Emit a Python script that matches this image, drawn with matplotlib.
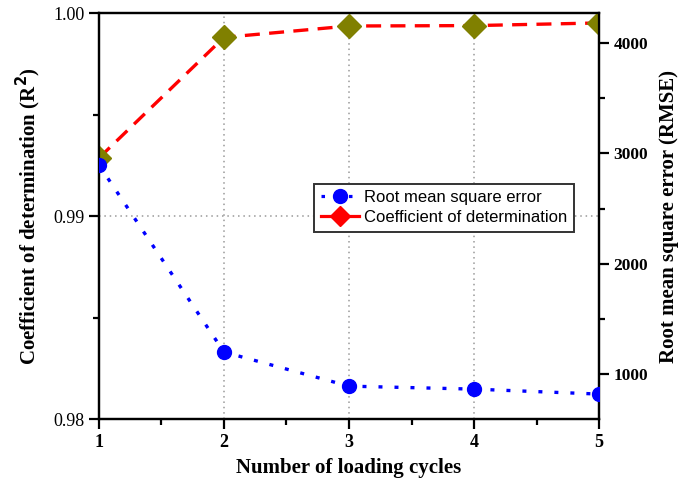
import matplotlib
matplotlib.use("Agg")
import matplotlib.pyplot as plt
from matplotlib.lines import Line2D
from matplotlib.ticker import MultipleLocator

cycles = [1, 2, 3, 4, 5]
r2 = [0.99286, 0.99880, 0.99936, 0.99938, 0.99951]
rmse = [2894, 1199, 890, 863, 818]

x_label = "Number of loading cycles"
left_label = "Coefficient of determination (R$^\\mathbf{2}$)"
right_label = "Root mean square error (RMSE)"
legend_labels = ["Root mean square error", "Coefficient of determination"]

serif = "Liberation Serif"
sans = "Liberation Sans"

fig = plt.figure(figsize=(6.86, 4.87), dpi=100)
ax = fig.add_axes([0.1443, 0.1396, 0.7289, 0.8337])
ax2 = ax.twinx()

# R^2 on left axis
ax.plot(cycles, r2, color="red", lw=2.4, dashes=(4.5, 2.8),
        marker="D", markersize=12, markerfacecolor="#808000",
        markeredgecolor="#808000", zorder=3)

# RMSE on right axis
ax2.plot(cycles, rmse, color="blue", lw=2.4, dashes=(1.2, 3.6),
         marker="o", markersize=10, markerfacecolor="blue",
         markeredgecolor="blue", zorder=3)

ax.set_xlim(1, 5)
ax.set_ylim(0.98, 1.00)
ax2.set_ylim(592, 4272)

ax.set_xticks(cycles)
ax.xaxis.set_minor_locator(MultipleLocator(0.5))
ax.set_yticks([0.98, 0.99, 1.00])
ax.set_yticklabels(["0.98", "0.99", "1.00"])
ax.yaxis.set_minor_locator(MultipleLocator(0.005))
ax2.set_yticks([1000, 2000, 3000, 4000])
ax2.yaxis.set_minor_locator(MultipleLocator(500))

# grid lines
for xv in [2, 3, 4]:
    ax.axvline(xv, color="#999999", lw=1.1, ls=(0, (1, 2.5)), zorder=1)
ax.axhline(0.99, color="#999999", lw=1.1, ls=(0, (1, 2.5)), zorder=1)

for a in (ax, ax2):
    for s in a.spines.values():
        s.set_linewidth(1.6)
    a.tick_params(which="major", length=7, width=1.6, direction="out")
    a.tick_params(which="minor", length=4, width=1.6, direction="out")

ax.tick_params(axis="x", which="both", top=False)
for t in ax.get_xticklabels():
    t.set_fontfamily(serif)
    t.set_fontweight("bold")
    t.set_fontsize(13)
for t in ax.get_yticklabels():
    t.set_fontfamily(serif)
    t.set_fontsize(13)
for t in ax2.get_yticklabels():
    t.set_fontfamily(serif)
    t.set_fontweight("bold")
    t.set_fontsize(12.5)

ax.set_xlabel(x_label, fontfamily=serif, fontweight="bold", fontsize=15, labelpad=5)
ax.set_ylabel(left_label, fontfamily=serif, fontweight="bold", fontsize=15, labelpad=7)
ax2.set_ylabel(right_label, fontfamily=serif, fontweight="bold", fontsize=15, labelpad=8)

handles = [
    Line2D([], [], color="blue", lw=2.3, dashes=(1.1, 3.2), marker="o",
           markersize=10, markerfacecolor="blue", markeredgecolor="blue"),
    Line2D([], [], color="red", lw=2.3, marker="D", markersize=10,
           markerfacecolor="red", markeredgecolor="red"),
]
leg = ax2.legend(handles, legend_labels, loc="upper left",
                 bbox_to_anchor=(0.43, 0.58), prop={"family": sans, "size": 12},
                 frameon=True, fancybox=False, framealpha=1, edgecolor="#333333",
                 handlelength=2.3, handletextpad=0.3, borderpad=0.4,
                 labelspacing=0.3, borderaxespad=0)
leg.get_frame().set_linewidth(1.4)

fig.savefig("out.png", dpi=100)
